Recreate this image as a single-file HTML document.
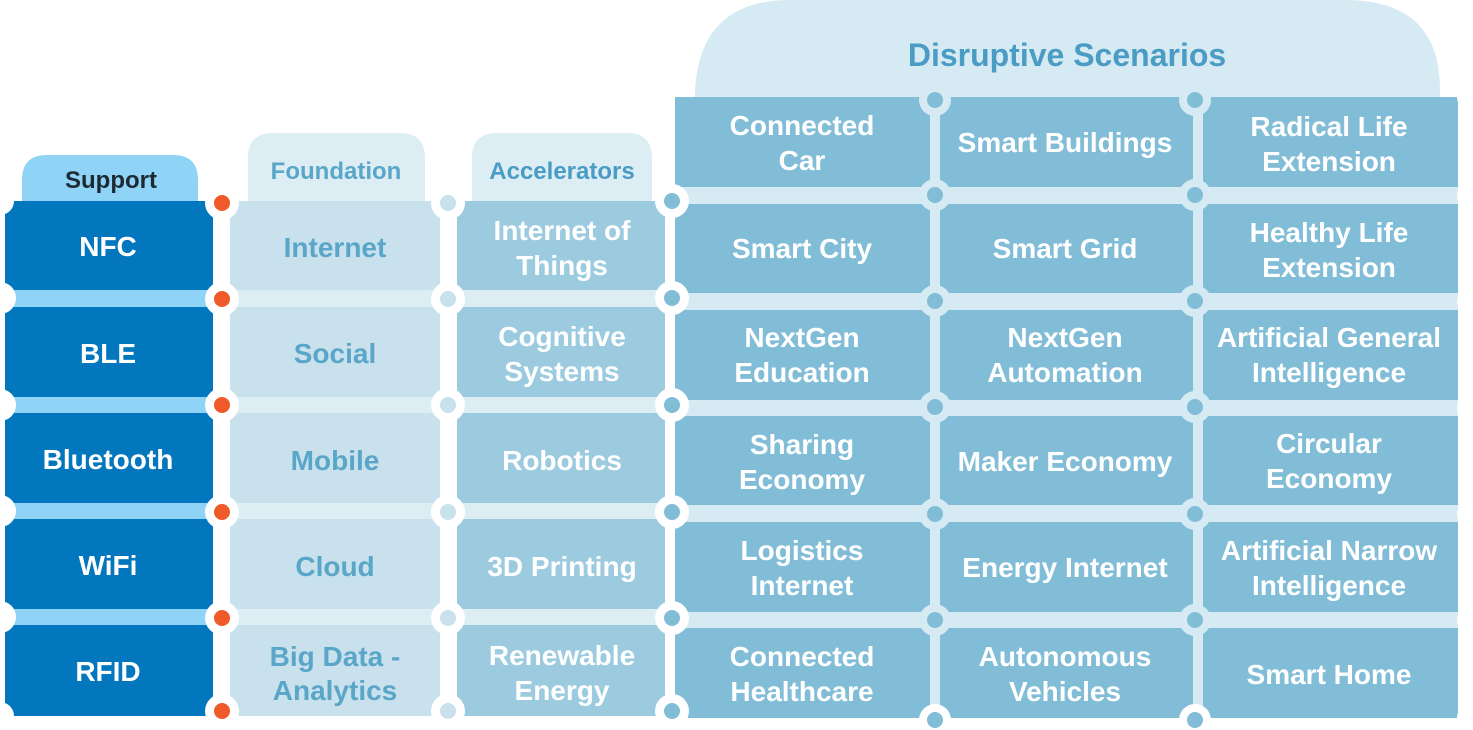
<!DOCTYPE html>
<html><head><meta charset="utf-8"><style>
html,body{margin:0;padding:0;background:#fff;}
svg{display:block;}
text{font-family:"Liberation Sans",Arial,sans-serif;font-weight:bold;text-anchor:middle;}
</style></head><body>
<svg width="1473" height="730" viewBox="0 0 1473 730" xmlns="http://www.w3.org/2000/svg">
<path d="M695,100 L695,90 Q700,0 790,0 L1345,0 Q1440,0 1440,90 L1440,100 Z" fill="#d6eaf3"/>
<text x="1067" y="66" font-size="32" fill="#4a9cc4">Disruptive Scenarios</text>
<path d="M22,201 L22,180 Q22,155 47,155 L173,155 Q198,155 198,180 L198,201 Z" fill="#8fd3f7"/>
<text x="111" y="188" font-size="24" fill="#1d2a33">Support</text>
<path d="M248,201 L248,158 Q248,133 273,133 L400,133 Q425,133 425,158 L425,201 Z" fill="#dcedf4"/>
<text x="336" y="179" font-size="24" fill="#5aa6c8">Foundation</text>
<path d="M472,201 L472,158 Q472,133 497,133 L627,133 Q652,133 652,158 L652,201 Z" fill="#dcedf4"/>
<text x="562" y="179" font-size="24" fill="#4a9cc4">Accelerators</text>

<rect x="5" y="201" width="208" height="515" fill="#8fd3f7"/>
<rect x="230" y="201" width="210" height="515" fill="#dcedf4"/>
<rect x="457" y="201" width="208" height="515" fill="#dcedf4"/>
<rect x="675" y="97" width="783" height="621" fill="#d6eaf3"/>

<g>
<rect x="5" y="201" width="208" height="89" fill="#0277bd"/>
<rect x="5" y="307" width="208" height="90" fill="#0277bd"/>
<rect x="5" y="413" width="208" height="90" fill="#0277bd"/>
<rect x="5" y="519" width="208" height="90" fill="#0277bd"/>
<rect x="5" y="625" width="208" height="91" fill="#0277bd"/>
<rect x="230" y="201" width="210" height="89" fill="#c8e1ec"/>
<rect x="230" y="307" width="210" height="90" fill="#c8e1ec"/>
<rect x="230" y="413" width="210" height="90" fill="#c8e1ec"/>
<rect x="230" y="519" width="210" height="90" fill="#c8e1ec"/>
<rect x="230" y="625" width="210" height="91" fill="#c8e1ec"/>
<rect x="457" y="201" width="208" height="89" fill="#9ccbe0"/>
<rect x="457" y="307" width="208" height="90" fill="#9ccbe0"/>
<rect x="457" y="413" width="208" height="90" fill="#9ccbe0"/>
<rect x="457" y="519" width="208" height="90" fill="#9ccbe0"/>
<rect x="457" y="625" width="208" height="91" fill="#9ccbe0"/>
</g>
<g fill="#82bdd8">
<rect x="675" y="97" width="255" height="90"/><rect x="940" y="97" width="253" height="90"/><rect x="1203" y="97" width="255" height="90"/>
<rect x="675" y="204" width="255" height="89"/><rect x="940" y="204" width="253" height="89"/><rect x="1203" y="204" width="255" height="89"/>
<rect x="675" y="310" width="255" height="90"/><rect x="940" y="310" width="253" height="90"/><rect x="1203" y="310" width="255" height="90"/>
<rect x="675" y="416" width="255" height="89"/><rect x="940" y="416" width="253" height="89"/><rect x="1203" y="416" width="255" height="89"/>
<rect x="675" y="522" width="255" height="90"/><rect x="940" y="522" width="253" height="90"/><rect x="1203" y="522" width="255" height="90"/>
<rect x="675" y="628" width="255" height="90"/><rect x="940" y="628" width="253" height="90"/><rect x="1203" y="628" width="255" height="90"/>
</g>

<g fill="#fff">
<circle cx="0" cy="201" r="14"/><circle cx="0" cy="298" r="16"/><circle cx="0" cy="405" r="16"/><circle cx="0" cy="511" r="16"/><circle cx="0" cy="617" r="16"/><circle cx="0" cy="716" r="14"/>
<circle cx="1473" cy="97" r="16"/><circle cx="1473" cy="196" r="16"/><circle cx="1473" cy="302" r="16"/><circle cx="1473" cy="408" r="16"/><circle cx="1473" cy="514" r="16"/><circle cx="1473" cy="620" r="16"/><circle cx="1473" cy="718" r="16"/>
</g>
<g fill="#fff"><circle cx="222" cy="203" r="17"/><circle cx="222" cy="299" r="17"/><circle cx="222" cy="405" r="17"/><circle cx="222" cy="512" r="17"/><circle cx="222" cy="618" r="17"/><circle cx="222" cy="711" r="17"/></g>
<g fill="#f05a28"><circle cx="222" cy="203" r="8"/><circle cx="222" cy="299" r="8"/><circle cx="222" cy="405" r="8"/><circle cx="222" cy="512" r="8"/><circle cx="222" cy="618" r="8"/><circle cx="222" cy="711" r="8"/></g>
<g fill="#fff"><circle cx="448" cy="203" r="17"/><circle cx="448" cy="299" r="17"/><circle cx="448" cy="405" r="17"/><circle cx="448" cy="512" r="17"/><circle cx="448" cy="618" r="17"/><circle cx="448" cy="711" r="17"/></g>
<g fill="#c8e1ec"><circle cx="448" cy="203" r="8"/><circle cx="448" cy="299" r="8"/><circle cx="448" cy="405" r="8"/><circle cx="448" cy="512" r="8"/><circle cx="448" cy="618" r="8"/><circle cx="448" cy="711" r="8"/></g>
<g fill="#fff"><circle cx="672" cy="201" r="17"/><circle cx="672" cy="298" r="17"/><circle cx="672" cy="405" r="17"/><circle cx="672" cy="512" r="17"/><circle cx="672" cy="618" r="17"/><circle cx="672" cy="711" r="17"/></g>
<g fill="#82bdd8"><circle cx="672" cy="201" r="8"/><circle cx="672" cy="298" r="8"/><circle cx="672" cy="405" r="8"/><circle cx="672" cy="512" r="8"/><circle cx="672" cy="618" r="8"/><circle cx="672" cy="711" r="8"/></g>
<g fill="#d6eaf3">
<circle cx="935" cy="100" r="16"/><circle cx="935" cy="195" r="16"/><circle cx="935" cy="301" r="16"/><circle cx="935" cy="407" r="16"/><circle cx="935" cy="514" r="16"/><circle cx="935" cy="620" r="16"/>
<circle cx="1195" cy="100" r="16"/><circle cx="1195" cy="195" r="16"/><circle cx="1195" cy="301" r="16"/><circle cx="1195" cy="407" r="16"/><circle cx="1195" cy="514" r="16"/><circle cx="1195" cy="620" r="16"/>
</g>
<g fill="#fff"><circle cx="935" cy="720" r="16"/><circle cx="1195" cy="720" r="16"/></g>
<g fill="#82bdd8">
<circle cx="935" cy="100" r="8"/><circle cx="935" cy="195" r="8"/><circle cx="935" cy="301" r="8"/><circle cx="935" cy="407" r="8"/><circle cx="935" cy="514" r="8"/><circle cx="935" cy="620" r="8"/><circle cx="935" cy="720" r="8"/>
<circle cx="1195" cy="100" r="8"/><circle cx="1195" cy="195" r="8"/><circle cx="1195" cy="301" r="8"/><circle cx="1195" cy="407" r="8"/><circle cx="1195" cy="514" r="8"/><circle cx="1195" cy="620" r="8"/><circle cx="1195" cy="720" r="8"/>
</g>

<g font-size="28" fill="#fff">
<text x="108" y="256">NFC</text><text x="108" y="363">BLE</text><text x="108" y="469">Bluetooth</text><text x="108" y="575">WiFi</text><text x="108" y="681">RFID</text>
</g>
<g font-size="28" fill="#5aa6c8">
<text x="335" y="257">Internet</text><text x="335" y="363">Social</text><text x="335" y="470">Mobile</text><text x="335" y="576">Cloud</text>
<text x="335" y="666">Big Data -</text><text x="335" y="700">Analytics</text>
</g>
<g font-size="28" fill="#fff">
<text x="562" y="240">Internet of</text><text x="562" y="275">Things</text>
<text x="562" y="346">Cognitive</text><text x="562" y="381">Systems</text>
<text x="562" y="470">Robotics</text>
<text x="562" y="576">3D Printing</text>
<text x="562" y="665">Renewable</text><text x="562" y="700">Energy</text>

<text x="802" y="135">Connected</text><text x="802" y="170">Car</text>
<text x="1065" y="152">Smart Buildings</text>
<text x="1329" y="136">Radical Life</text><text x="1329" y="171">Extension</text>

<text x="802" y="258">Smart City</text>
<text x="1065" y="258">Smart Grid</text>
<text x="1329" y="242">Healthy Life</text><text x="1329" y="277">Extension</text>

<text x="802" y="347">NextGen</text><text x="802" y="382">Education</text>
<text x="1065" y="347">NextGen</text><text x="1065" y="382">Automation</text>
<text x="1329" y="347">Artificial General</text><text x="1329" y="382">Intelligence</text>

<text x="802" y="454">Sharing</text><text x="802" y="489">Economy</text>
<text x="1065" y="471">Maker Economy</text>
<text x="1329" y="453">Circular</text><text x="1329" y="488">Economy</text>

<text x="802" y="560">Logistics</text><text x="802" y="595">Internet</text>
<text x="1065" y="577">Energy Internet</text>
<text x="1329" y="560">Artificial Narrow</text><text x="1329" y="595">Intelligence</text>

<text x="802" y="666">Connected</text><text x="802" y="701">Healthcare</text>
<text x="1065" y="666">Autonomous</text><text x="1065" y="701">Vehicles</text>
<text x="1329" y="684">Smart Home</text>
</g>
</svg>
</body></html>
